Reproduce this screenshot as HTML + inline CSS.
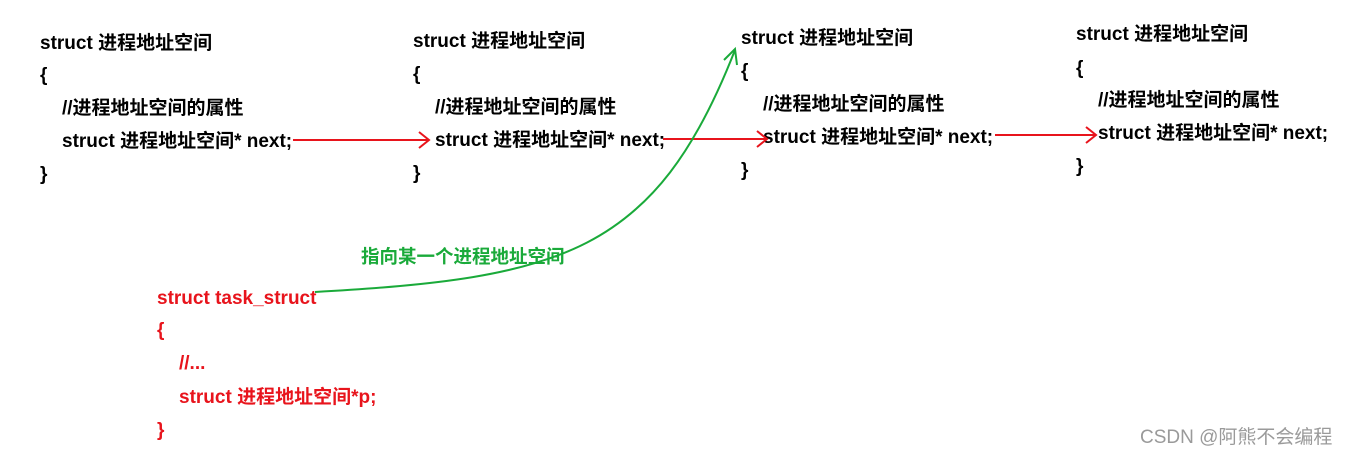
<!DOCTYPE html>
<html><head><meta charset="utf-8"><style>
body{margin:0;width:1346px;height:453px;background:#fff;position:relative;overflow:hidden;font-family:"Liberation Sans","Noto Sans CJK SC",sans-serif;font-weight:bold;font-size:19px;}
.t{position:absolute;white-space:nowrap;line-height:22px;transform:translateY(-9px);}
.r{color:#e8141c}
.g{color:#1aaa3a}
.w{position:absolute;white-space:nowrap;color:#9a9a9a;font-weight:normal;font-size:19px;}
svg{position:absolute;left:0;top:0}
</style></head><body>
<div class="t" style="left:40px;top:42px">struct 进程地址空间</div>
<div class="t" style="left:40px;top:74px">{</div>
<div class="t" style="left:62px;top:107px">//进程地址空间的属性</div>
<div class="t" style="left:62px;top:140px">struct 进程地址空间* next;</div>
<div class="t" style="left:40px;top:173px">}</div>

<div class="t" style="left:413px;top:40px">struct 进程地址空间</div>
<div class="t" style="left:413px;top:73px">{</div>
<div class="t" style="left:435px;top:106px">//进程地址空间的属性</div>
<div class="t" style="left:435px;top:139px">struct 进程地址空间* next;</div>
<div class="t" style="left:413px;top:172px">}</div>

<div class="t" style="left:741px;top:37px">struct 进程地址空间</div>
<div class="t" style="left:741px;top:70px">{</div>
<div class="t" style="left:763px;top:103px">//进程地址空间的属性</div>
<div class="t" style="left:763px;top:136px">struct 进程地址空间* next;</div>
<div class="t" style="left:741px;top:169px">}</div>

<div class="t" style="left:1076px;top:33px">struct 进程地址空间</div>
<div class="t" style="left:1076px;top:67px">{</div>
<div class="t" style="left:1098px;top:99px">//进程地址空间的属性</div>
<div class="t" style="left:1098px;top:132px">struct 进程地址空间* next;</div>
<div class="t" style="left:1076px;top:165px">}</div>

<div class="t r" style="left:157px;top:297px">struct task_struct</div>
<div class="t r" style="left:157px;top:329px">{</div>
<div class="t r" style="left:179px;top:362px">//...</div>
<div class="t r" style="left:179px;top:396px">struct 进程地址空间*p;</div>
<div class="t r" style="left:157px;top:429px">}</div>

<div class="t g" style="left:361px;top:255px;font-size:18.5px">指向某一个进程地址空间</div>
<div class="w" style="left:1140px;top:422px">CSDN @阿熊不会编程</div>

<svg width="1346" height="453">
<g stroke="#e8141c" stroke-width="2" fill="none">
<path d="M293 140H429M419 132L429 140L419 148"/>
<path d="M663 139H767M757 131L767 139L757 147"/>
<path d="M995 135H1096M1086 127L1096 135L1086 143"/>
</g>
<g stroke="#1aaa3a" stroke-width="2" fill="none">
<path d="M315 292C560 278 655 255 735 50"/>
<path d="M724 60L735 49L737 65"/>
</g>
</svg>
</body></html>
